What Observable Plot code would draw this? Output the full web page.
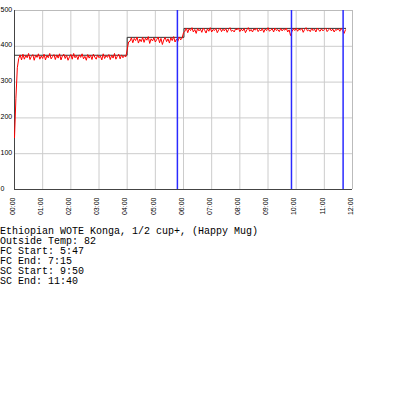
<!DOCTYPE html>
<html>
<head>
<meta charset="utf-8">
<script src="https://cdn.jsdelivr.net/npm/d3@7"></script>
<script src="https://cdn.jsdelivr.net/npm/@observablehq/plot@0.6"></script>
<style>
  html, body { margin: 0; padding: 0; background: #fff; }
  #chart svg { display: block; }
  #notes { font-family: "Liberation Mono", "Courier New", monospace; font-size: 10px; line-height: 10px; white-space: pre; margin: 0; color: #000; }
</style>
</head>
<body>
<div id="chart"></div>
<pre id="notes"></pre>
<script>
// Bean temperature, one sample every 3 seconds (seconds = index * 3)
const sampleSeconds = 3;
const beanTemps = [
  145, 255, 340,
  366, 376, 362, 378, 364, 374, 368, 380, 363, 372,
  377, 361, 375, 369, 379, 364, 373, 366, 378, 362,
  374, 368, 380, 365, 371, 377, 363, 376, 367, 379,
  362, 373, 378, 366, 375, 361, 370, 377, 364, 380,
  368, 374, 363, 376, 369, 379, 365, 372, 361, 377,
  367, 375, 363, 378, 370, 364, 376, 368, 373, 362,
  379, 366, 374, 369, 377, 363, 375, 367, 380, 364,
  372, 378, 365, 376, 368, 374, 370,
  390, 412,
  414, 424, 410, 422, 416, 426, 409, 420, 413, 425,
  411, 423, 417, 427, 408, 421, 415, 424, 412, 419,
  426, 410, 422, 405, 418, 425, 413, 421, 409, 424,
  416, 427, 412, 420, 414, 426, 418, 423,
  438,
  442, 451, 438, 449, 444, 452, 440, 447, 436, 450,
  443, 448, 439, 451, 445, 437, 449, 442, 452, 440,
  447, 444, 450, 438, 446, 451, 441, 448, 443, 450,
  439, 447, 452, 442, 445, 440, 449, 446, 451, 441,
  448, 443, 450, 438, 446, 452, 442, 447, 440, 449,
  445, 451, 441, 447, 443, 450, 439, 448, 444, 452,
  442, 446, 449, 440, 451, 444, 447, 441, 450, 443,
  448, 445, 451, 440, 446, 430, 441, 449, 444, 451,
  442, 448, 445, 450, 439, 447, 452, 443, 446, 441,
  450, 444, 448, 440, 451, 445, 442, 449, 443, 447,
  451, 441, 446, 450, 443, 448, 440, 447, 445, 449,
  442, 450, 444, 436, 446
];

// Set point (step line)
const setpointSeconds = [0, 240, 361, 706];
const setpointValues = [375, 425, 450, 450];

// Event markers (seconds): FC Start 5:47, SC Start 9:50, SC End 11:40
const eventSeconds = [347, 590, 700];

// Axis ticks
const xTickSeconds = [0, 60, 120, 180, 240, 300, 360, 420, 480, 540, 600, 660, 720];
const xTickLabels = ["00:00","01:00","02:00","03:00","04:00","05:00","06:00","07:00","08:00","09:00","10:00","11:00","12:00"];
const yTicks = [0, 100, 200, 300, 400, 500];

// Notes under the chart
const noteLines = [
  "Ethiopian WOTE Konga, 1/2 cup+, (Happy Mug)",
  "Outside Temp: 82",
  "FC Start: 5:47",
  "FC End: 7:15",
  "SC Start: 9:50",
  "SC End: 11:40"
];

const temps = beanTemps.map((v, i) => ({t: i * sampleSeconds, v}));
const setpoint = setpointSeconds.map((t, i) => ({t, v: setpointValues[i]}));
const labelFor = new Map(xTickSeconds.map((t, i) => [t, xTickLabels[i]]));

const chart = Plot.plot({
  width: 400,
  height: 227,
  marginLeft: 14,
  marginRight: 48,
  marginTop: 10,
  marginBottom: 38,
  style: {fontFamily: "'Liberation Sans', Arial, sans-serif", fontSize: "7px", color: "#000", background: "#fff"},
  x: {domain: [0, 720], label: null},
  y: {domain: [0, 500], label: null},
  marks: [
    Plot.gridX(xTickSeconds.slice(1, -1), {stroke: "#ccc", strokeOpacity: 1}),
    Plot.gridY(yTicks.slice(1, -1), {stroke: "#ccc", strokeOpacity: 1}),
    Plot.ruleY([500], {stroke: "#bbb"}),
    Plot.ruleX([720], {stroke: "#bbb"}),
    Plot.ruleX([0], {stroke: "#444"}),
    Plot.ruleY([0], {stroke: "#444"}),
    Plot.line(setpoint, {x: "t", y: "v", curve: "step-after", stroke: "#333", strokeWidth: 1}),
    Plot.line(temps, {x: "t", y: "v", stroke: "#ff0000", strokeWidth: 1}),
    Plot.ruleX(eventSeconds, {stroke: "#2a2aff", strokeWidth: 1.5}),
    Plot.axisY({ticks: yTicks, tickSize: 0, tickPadding: 14, textAnchor: "start", lineAnchor: "bottom", dy: 1, label: null}),
    Plot.axisX({ticks: xTickSeconds, tickFormat: d => labelFor.get(d), tickRotate: -90, tickSize: 0, tickPadding: 8, dx: -2, label: null})
  ]
});
document.getElementById("chart").appendChild(chart);
document.getElementById("notes").textContent = noteLines.join("\n");
</script>
</body>
</html>
